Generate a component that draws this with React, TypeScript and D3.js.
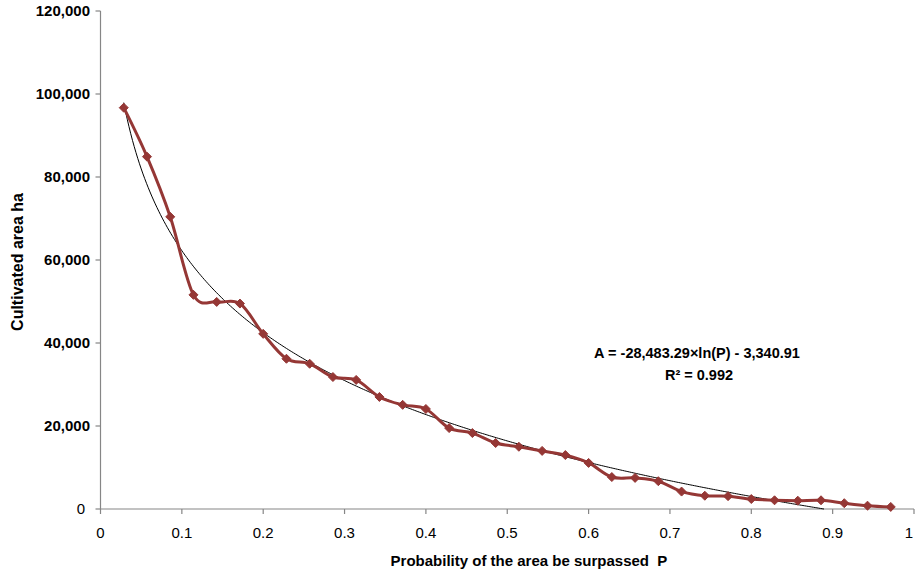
import React from "react";
import * as d3 from "d3";

const probabilities: number[] = [
  1, 2, 3, 4, 5, 6, 7, 8, 9, 10, 11, 12, 13, 14, 15, 16, 17,
  18, 19, 20, 21, 22, 23, 24, 25, 26, 27, 28, 29, 30, 31, 32, 33, 34,
].map((m) => m / 35);

const areas: number[] = [
  96700, 84900, 70400, 51600, 49900, 49500, 42200, 36200, 35000, 31800,
  31100, 27000, 25100, 24100, 19500, 18300, 15900, 15000, 14000, 13000,
  11100, 7700, 7500, 6700, 4200, 3200, 3100, 2400, 2100, 2000, 2100,
  1400, 800, 500,
];

const xTicks: number[] = [0, 0.1, 0.2, 0.3, 0.4, 0.5, 0.6, 0.7, 0.8, 0.9, 1];
const yTicks: number[] = [0, 20000, 40000, 60000, 80000, 100000, 120000];

const trendA = -28483.29;
const trendB = -3340.91;
const equationText = "A = -28,483.29×ln(P) - 3,340.91";
const r2Text = "R² = 0.992";
const xTitle = "Probability of the area be surpassed  P";
const yTitle = "Cultivated area ha";

const W = 915;
const H = 577;
const M = { left: 100.5, right: 914, top: 11, bottom: 509 };
const LINE = "#953735";
const AXIS = "#868686";
const FONT = "'Liberation Sans', Arial, sans-serif";

export default function App() {
  const x = d3.scaleLinear().domain([0, 1]).range([M.left, M.right]);
  const y = d3.scaleLinear().domain([0, 120000]).range([M.bottom, M.top]);

  const data = probabilities.map((p, i) => ({ p, a: areas[i] }));

  const line = d3
    .line<{ p: number; a: number }>()
    .x((d) => x(d.p))
    .y((d) => y(d.a))
    .curve(d3.curveCatmullRom.alpha(0));

  // logarithmic trendline over data x-range, clipped at 0
  const pMin = probabilities[0];
  const pZero = Math.exp(-trendB / trendA);
  const pMax = Math.min(probabilities[probabilities.length - 1], pZero);
  const trendPts = d3.range(0, 401).map((i) => {
    const p = pMin + ((pMax - pMin) * i) / 400;
    return { p, a: Math.max(0, trendA * Math.log(p) + trendB) };
  });
  const trendLine = d3
    .line<{ p: number; a: number }>()
    .x((d) => x(d.p))
    .y((d) => y(d.a));

  const fmt = d3.format(",");
  const diamond = "M0,-4.5L4.5,0L0,4.5L-4.5,0Z";

  return (
    <svg
      width={W}
      height={H}
      style={{ position: "absolute", left: 0, top: 0, background: "#fff" }}
      fontFamily={FONT}
    >
      <rect width={W} height={H} fill="#fff" />
      {/* axes */}
      <line x1={M.left} x2={M.left} y1={M.top} y2={M.bottom} stroke={AXIS} strokeWidth={1.2} />
      <line x1={M.left} x2={M.right} y1={M.bottom} y2={M.bottom} stroke={AXIS} strokeWidth={1.2} />
      {yTicks.map((t) => (
        <g key={"y" + t}>
          <line x1={M.left - 5} x2={M.left} y1={y(t)} y2={y(t)} stroke={AXIS} strokeWidth={1.2} />
          <text
            x={t === 0 ? 85 : 90}
            y={y(t)}
            dy="0.36em"
            textAnchor="end"
            fontSize={15}
            fontWeight={t === 0 ? "normal" : "bold"}
            fill="#000"
          >
            {fmt(t)}
          </text>
        </g>
      ))}
      {xTicks.map((t) => (
        <g key={"x" + t}>
          <line x1={x(t)} x2={x(t)} y1={M.bottom} y2={M.bottom + 5} stroke={AXIS} strokeWidth={1.2} />
          <text
            x={t === 1 ? W - 2 : x(t)}
            y={538}
            textAnchor={t === 1 ? "end" : "middle"}
            fontSize={15}
            fill="#000"
          >
            {String(t)}
          </text>
        </g>
      ))}
      {/* trendline */}
      <path d={trendLine(trendPts) || ""} fill="none" stroke="#000" strokeWidth={1} />
      {/* data */}
      <path d={line(data) || ""} fill="none" stroke={LINE} strokeWidth={3} strokeLinejoin="round" />
      {data.map((d, i) => (
        <path key={i} d={diamond} transform={`translate(${x(d.p)},${y(d.a)})`} fill={LINE} stroke={LINE} strokeWidth={1} />
      ))}
      {/* equation */}
      <text x={697} y={358} textAnchor="middle" fontSize={14.5} fontWeight="bold" fill="#000">
        {equationText}
      </text>
      <text x={699} y={380} textAnchor="middle" fontSize={14.5} fontWeight="bold" fill="#000">
        {r2Text}
      </text>
      {/* titles */}
      <text x={529} y={566} textAnchor="middle" fontSize={15} fontWeight="bold" fill="#000" style={{ whiteSpace: "pre" }}>
        {xTitle}
      </text>
      <text
        transform={`translate(23,${262}) rotate(-90)`}
        textAnchor="middle"
        fontSize={16}
        fontWeight="bold"
        fill="#000"
      >
        {yTitle}
      </text>
    </svg>
  );
}
